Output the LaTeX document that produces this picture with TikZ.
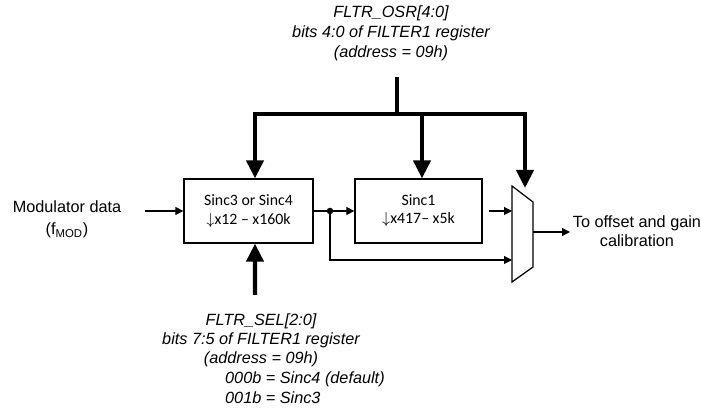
\documentclass[tikz,border=0pt]{standalone}
\usepackage{fontspec}
\setmainfont{Liberation Sans}
\newfontfamily\boxfont[Ligatures=TeX]{Carlito}
\usetikzlibrary{arrows.meta,positioning,calc}

\begin{document}
\begin{tikzpicture}[
  >={Triangle[length=1.6mm,width=1.6mm]},
  font=\fontsize{9.25}{10.8}\selectfont,
  blk/.style={draw,rectangle,align=center,line width=0.7pt,minimum width=2.58cm,minimum height=1.28cm,
    font=\boxfont\fontsize{9}{11.2}\selectfont},
  note/.style={align=center,font=\itshape\fontsize{9.25}{10.8}\selectfont},
  sig/.style={line width=0.6pt},
  arr/.style={->,line width=0.6pt},
  bus/.style={line width=2.3pt},
  busarr/.style={-{Triangle[length=3.6mm,width=3.4mm]},line width=2.3pt}
]
  \useasboundingbox (0,0) rectangle (14.02,-8.18);

  \node[note,font=\itshape\fontsize{9.25}{11.4}\selectfont] (osr) at (7.82,-0.66)
    {FLTR\_OSR[4:0]\\bits 4:0 of FILTER1 register\\(address = 09h)};

  \node[blk] (sincA) at (4.97,-4.22) {Sinc3 or Sinc4\\$\downarrow$x12 – x160k};
  \node[blk,minimum width=2.54cm,font=\boxfont\fontsize{9}{10.3}\selectfont] (sincB) at (8.37,-4.22)
    {Sinc1\\$\downarrow$x417– x5k};

  % mux outline
  \coordinate (muxA) at (10.24,-3.72);
  \coordinate (muxB) at (10.66,-4.04);
  \coordinate (muxC) at (10.66,-5.34);
  \coordinate (muxD) at (10.24,-5.64);
  \draw[line width=0.7pt] (muxA) -- (muxB) -- (muxC) -- (muxD) -- cycle;
  \coordinate (muxin1) at (10.24,-4.22);
  \coordinate (muxin2) at (10.24,-5.20);
  \coordinate (muxout) at (10.66,-4.64);
  \coordinate (muxsel) at (10.50,-3.76);

  \node[align=center] (mod) at (1.34,-4.39) {Modulator data\\[2pt](f\textsubscript{MOD})};
  \coordinate (modin) at (2.90,-4.22);
  \draw[arr] (modin) -- (sincA.west);

  \coordinate (tap) at (6.60,-4.22);
  \draw[sig] (sincA.east) -- (tap);
  \fill (tap) circle (0.065);
  \draw[arr] (tap) -- (sincB.west);
  \draw[arr] (tap) |- (muxin2);
  \draw[arr,shorten <=1.2mm] (sincB.east) -- (muxin1);

  \node[align=center,font=\fontsize{9.25}{10.8}\selectfont] (cal) at (12.74,-4.62)
    {To offset and gain\\calibration};
  \coordinate (outend) at (11.40,-4.64);
  \draw[arr] (muxout) -- (outend);

  \coordinate (osrtop) at (7.94,-1.54);
  \coordinate (bus) at (7.94,-2.28);
  \draw[bus] (osrtop) -- (bus);
  \draw[busarr] (bus) -| ([xshift=1.3mm]sincA.north);
  \draw[busarr] (bus) -| ([xshift=0.7mm]sincB.north);
  \draw[busarr] (bus) -| (muxsel);

  \coordinate (selbot) at (5.10,-5.90);
  \draw[busarr] (selbot) -- ([xshift=1.3mm]sincA.south);

  \node[note] (sel) at (5.22,-6.80)
    {FLTR\_SEL[2:0]\\bits 7:5 of FILTER1 register\\(address = 09h)};
  \node[note,align=left,anchor=west,font=\itshape\fontsize{9.25}{11.4}\selectfont] (selval) at (4.38,-7.76)
    {000b = Sinc4 (default)\\001b = Sinc3};
\end{tikzpicture}
\end{document}
